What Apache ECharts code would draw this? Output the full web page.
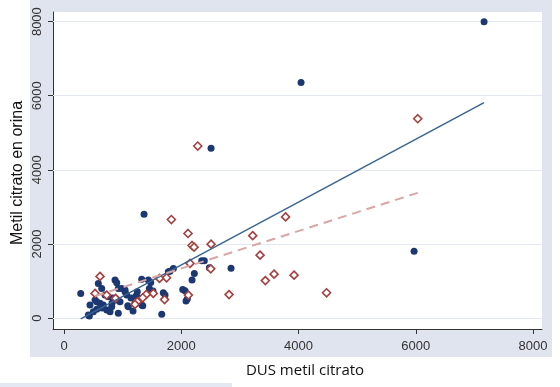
<!DOCTYPE html>
<html>
<head>
<meta charset="utf-8">
<script src="https://cdn.jsdelivr.net/npm/echarts@6/dist/echarts.min.js"></script>
<style>html,body{margin:0;padding:0;background:#fff}#c{width:560px;height:387px}</style>
</head>
<body>
<div id="c"></div>
<script>
// Tick values
var xTicks = [0, 2000, 4000, 6000, 8000];
var yTicks = [0, 2000, 4000, 6000, 8000];

// Navy filled circles: [DUS metil citrato, Metil citrato en orina]
var navyPoints = [
  [7165, 8000], [4043, 6358], [2508, 4580], [1365, 2802], [5971, 1805], [2849, 1347],
  [2349, 1544], [2393, 1544], [2479, 1360], [2223, 1204], [2184, 1024], [1865, 1339],
  [1808, 1266], [1779, 1247], [1694, 682], [1723, 620], [2025, 773], [2064, 735],
  [2103, 512], [2081, 458], [1325, 1050], [1479, 962], [1455, 800], [1438, 1024],
  [1518, 727], [984, 800], [1041, 754], [1087, 331], [1343, 331], [1667, 100],
  [1228, 593], [1268, 547], [1250, 709], [285, 665], [432, 54], [558, 234],
  [529, 485], [558, 439], [614, 396], [670, 350], [585, 935], [643, 800],
  [699, 620], [756, 574], [728, 216], [785, 170], [813, 304], [870, 1024],
  [899, 951], [926, 800], [899, 485], [955, 439], [926, 127], [1041, 709],
  [1070, 620], [1097, 304], [1211, 396], [1268, 485], [1326, 350], [415, 81],
  [500, 170], [836, 539], [648, 269], [819, 404], [1143, 539], [1177, 189],
  [443, 350]
];

// Maroon hollow diamonds
var maroonPoints = [
  [6034, 5380], [2281, 4642], [1831, 2659], [2115, 2282], [2184, 1959], [2218, 1913],
  [2508, 1994], [3219, 2223], [3779, 2729], [3344, 1697], [2149, 1474], [2503, 1328],
  [3583, 1185], [3924, 1158], [3434, 1010], [4478, 682], [2815, 633], [2121, 620],
  [1715, 498], [1749, 1086], [1629, 1070], [1523, 665], [1404, 638], [1343, 547],
  [1250, 439], [1211, 369], [614, 1123], [529, 665], [728, 620], [879, 531]
];

// Linear fit endpoints
var navyFit = [[285, -25], [7165, 5816]];
var maroonFit = [[529, 593], [6034, 3378]];

var chart = echarts.init(document.getElementById('c'), null, {renderer: 'canvas'});
var font = 'Liberation Sans, Arial, sans-serif';
function plain(v) { return String(v); }
chart.setOption({
  backgroundColor: '#ffffff',
  animation: false,
  graphic: [
    {type: 'rect', z: -10, shape: {x: 30, y: 0, width: 522, height: 357}, style: {fill: '#dfe4ef'}},
    {type: 'rect', z: -9, shape: {x: 53, y: 12, width: 489, height: 317}, style: {fill: '#ffffff'}},
    {type: 'rect', z: -10, shape: {x: 0, y: 383, width: 232, height: 4}, style: {fill: '#e4e8f2'}},
    {type: 'text', z: 10, x: 305, y: 371, style: {text: 'DUS metil citrato', font: '15px "Open Sans", sans-serif', fill: '#111', align: 'center', verticalAlign: 'middle'}},
    {type: 'text', z: 10, x: 18, y: 173, rotation: Math.PI / 2, style: {text: 'Metil citrato en orina', font: '16px "Liberation Sans", Arial, sans-serif', fill: '#111', align: 'center', verticalAlign: 'middle'}}
  ],
  grid: {left: 53, right: 18, top: 12, bottom: 58, containLabel: false, outerBoundsMode: 'none'},
  xAxis: {
    type: 'value', min: -188, max: 8153,
    axisLine: {show: true, onZero: false, lineStyle: {color: '#333', width: 1}},
    axisTick: {show: true, length: 5, customValues: xTicks, lineStyle: {color: '#333'}},
    axisLabel: {customValues: xTicks, formatter: plain, fontSize: 13, color: '#333', margin: 11, fontFamily: font},
    splitLine: {show: false}
  },
  yAxis: {
    type: 'value', min: -296, max: 8260,
    axisLine: {show: true, onZero: false, lineStyle: {color: '#333', width: 1}},
    axisTick: {show: true, length: 5, customValues: yTicks, lineStyle: {color: '#333'}},
    axisLabel: {customValues: yTicks, formatter: plain, fontSize: 13, color: '#333', margin: 9, rotate: 90, fontFamily: font},
    splitLine: {show: false}
  },
  series: [
    {
      type: 'scatter', name: 'navy', data: navyPoints, symbol: 'circle', symbolSize: 7,
      itemStyle: {color: '#1c3872', opacity: 1}, z: 2,
      markLine: {
        silent: true, symbol: 'none', z: 1, animation: false,
        label: {show: false},
        lineStyle: {color: '#e3e8f3', width: 1, type: 'solid'},
        data: yTicks.map(function (v) { return {yAxis: v}; })
      }
    },
    {
      type: 'scatter', name: 'maroon', data: maroonPoints, symbol: 'diamond', symbolSize: [8, 8],
      itemStyle: {color: '#ffffff', borderColor: '#a4403f', borderWidth: 1.6, opacity: 1}, z: 3
    },
    {
      type: 'line', data: navyFit, showSymbol: false, symbol: 'none', z: 4,
      lineStyle: {color: '#3b6591', width: 1.5}
    },
    {
      type: 'line', data: maroonFit, showSymbol: false, symbol: 'none', z: 4,
      lineStyle: {color: '#d8a6a6', width: 2, type: [9, 6]}
    }
  ]
});
</script>
</body>
</html>
